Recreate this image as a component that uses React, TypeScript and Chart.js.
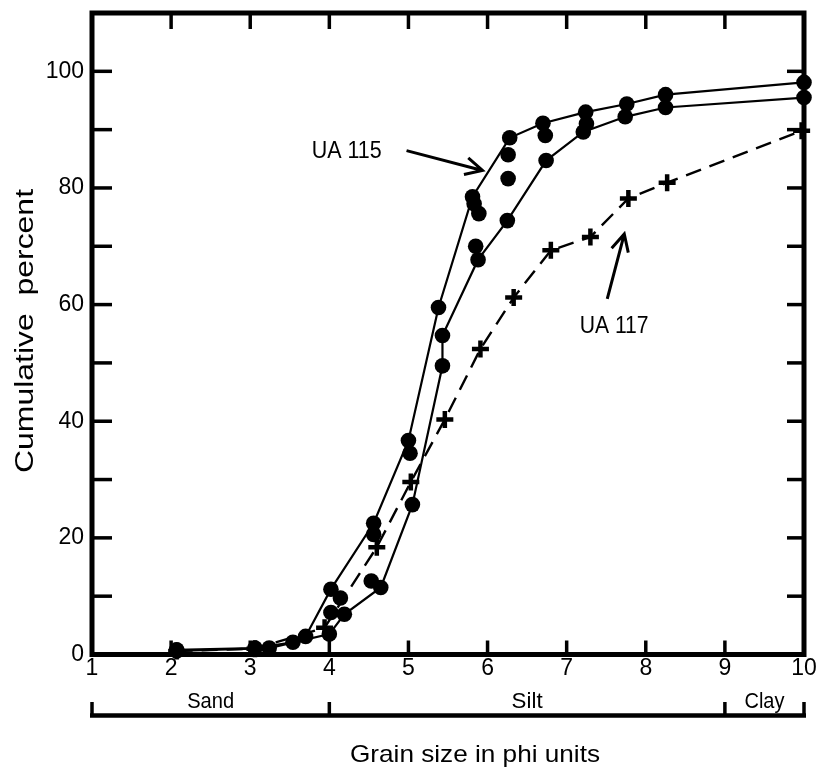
import React, { useEffect, useRef } from 'react';
import { Chart, registerables } from 'chart.js';

Chart.register(...registerables);

// ---------------- data ----------------
// phi size (x) and cumulative percent (y)
const ua115X = [2.07, 3.06, 3.54, 3.70, 4.02, 4.56, 5.00, 5.38, 5.81, 6.28, 6.70, 7.24, 7.76, 8.25, 10.0];
const ua115Y = [0.8, 1.1, 2.1, 3.1, 11.2, 22.5, 36.7, 59.5, 78.5, 88.6, 91.1, 93.0, 94.4, 96.0, 98.1];

const lowerX = [2.07, 3.24, 4.00, 4.19, 4.65, 5.05, 5.43, 5.43, 5.88, 6.25, 6.74, 7.21, 7.74, 8.25, 10.0];
const lowerY = [0.6, 1.1, 3.5, 6.9, 11.5, 25.7, 49.5, 54.7, 67.7, 74.4, 84.7, 89.6, 92.2, 93.8, 95.5];

const extraX = [4.14, 4.02, 4.53, 4.56, 5.02, 5.83, 5.89, 5.85, 6.26, 6.26, 6.73, 7.25];
const extraY = [9.7, 7.2, 12.6, 20.6, 34.5, 77.3, 75.6, 70.0, 85.7, 81.6, 89.0, 91.0];

const ua117X = [2.07, 3.06, 3.94, 4.60, 5.03, 5.46, 5.91, 6.33, 6.80, 7.30, 7.78, 8.27, 9.97];
const ua117Y = [0.6, 1.0, 4.6, 18.4, 29.6, 40.3, 52.4, 61.2, 69.3, 71.6, 78.2, 80.9, 89.8];

const xMin = 1;
const xMax = 10;
const yMin = 0;
const yMax = 110;
const innerXTicks = [2, 3, 4, 5, 6, 7, 8, 9];
const innerYTicks = [10, 20, 30, 40, 50, 60, 70, 80, 90, 100];

const classBounds = [1, 4, 9, 10];
const classNames = ['Sand', 'Silt', 'Clay'];

const yTitle = 'Cumulative  percent';
const xTitle = 'Grain size in phi units';

// annotations in data coordinates
const label115 = { text: 'UA 115', x: 4.22, y: 86.5 };
const arrow115 = { x1: 4.976, y1: 86.4, x2: 5.936, y2: 83.0 };
const label117 = { text: 'UA 117', x: 7.60, y: 56.5 };
const arrow117 = { x1: 7.513, y1: 61.0, x2: 7.728, y2: 72.1 };

const FAMILY = '"Liberation Sans", Arial, Helvetica, sans-serif';
const f = (s: number) => `${s}px ${FAMILY}`;

const pts = (xs: number[], ys: number[]) => xs.map((x, i) => ({ x, y: ys[i] }));

function line(ctx: CanvasRenderingContext2D, x1: number, y1: number, x2: number, y2: number) {
  ctx.beginPath();
  ctx.moveTo(x1, y1);
  ctx.lineTo(x2, y2);
  ctx.stroke();
}

function arrow(ctx: CanvasRenderingContext2D, x1: number, y1: number, x2: number, y2: number) {
  const ang = Math.atan2(y2 - y1, x2 - x1);
  const head = 19;
  const spread = 0.47;
  ctx.beginPath();
  ctx.moveTo(x1, y1);
  ctx.lineTo(x2, y2);
  ctx.moveTo(x2 - head * Math.cos(ang - spread), y2 - head * Math.sin(ang - spread));
  ctx.lineTo(x2, y2);
  ctx.lineTo(x2 - head * Math.cos(ang + spread), y2 - head * Math.sin(ang + spread));
  ctx.stroke();
}

function fitText(
  ctx: CanvasRenderingContext2D,
  text: string,
  cx: number,
  baseY: number,
  targetW: number,
  size: number,
  rotate: boolean,
  baseline: CanvasTextBaseline = 'alphabetic'
) {
  ctx.save();
  ctx.font = f(size);
  const w = ctx.measureText(text).width;
  ctx.translate(cx, baseY);
  if (rotate) ctx.rotate(-Math.PI / 2);
  ctx.scale(targetW / w, 1);
  ctx.textAlign = 'center';
  ctx.textBaseline = baseline;
  ctx.fillStyle = '#000';
  ctx.fillText(text, 0, 0);
  ctx.restore();
}

const decor = {
  id: 'decor',
  beforeDatasetsDraw(chart: any) {
    const { ctx, chartArea: a, scales } = chart;
    const x = scales.x;
    const y = scales.y;
    ctx.save();
    ctx.strokeStyle = '#000';
    ctx.fillStyle = '#000';
    ctx.lineCap = 'butt';

    // frame
    ctx.lineWidth = 5;
    ctx.strokeRect(a.left, a.top, a.right - a.left, a.bottom - a.top);

    // inward ticks
    ctx.lineWidth = 3.5;
    for (const v of innerXTicks) {
      const px = x.getPixelForValue(v);
      line(ctx, px, a.bottom, px, a.bottom - 14);
      line(ctx, px, a.top, px, a.top + 16);
    }
    for (const v of innerYTicks) {
      const py = y.getPixelForValue(v);
      line(ctx, a.left, py, a.left + 20, py);
      line(ctx, a.right, py, a.right - 17, py);
    }

    // size class bracket
    const by = 715.5;
    ctx.lineWidth = 4.5;
    line(ctx, x.getPixelForValue(classBounds[0]) - 2, by, x.getPixelForValue(classBounds[classBounds.length - 1]) + 2, by);
    ctx.lineWidth = 3.5;
    for (const v of classBounds) {
      const px = x.getPixelForValue(v);
      line(ctx, px, by, px, 702);
    }
    const classWidths = [47, 31, 40];
    for (let i = 0; i < classNames.length; i++) {
      const cx = (x.getPixelForValue(classBounds[i]) + x.getPixelForValue(classBounds[i + 1])) / 2;
      fitText(ctx, classNames[i], cx, 708, classWidths[i], 21.5, false);
    }

    // axis titles
    fitText(ctx, xTitle, 475, 762, 250, 24, false);
    fitText(ctx, yTitle, 33, 331, 284, 26, true);

    // annotations
    fitText(ctx, label115.text, x.getPixelForValue(label115.x), y.getPixelForValue(label115.y) + 8, 70, 23.5, false);
    fitText(ctx, label117.text, x.getPixelForValue(label117.x), y.getPixelForValue(label117.y) + 8, 69, 23.5, false);
    ctx.lineWidth = 3;
    arrow(ctx, x.getPixelForValue(arrow115.x1), y.getPixelForValue(arrow115.y1), x.getPixelForValue(arrow115.x2), y.getPixelForValue(arrow115.y2));
    arrow(ctx, x.getPixelForValue(arrow117.x1), y.getPixelForValue(arrow117.y1), x.getPixelForValue(arrow117.x2), y.getPixelForValue(arrow117.y2));

    ctx.restore();
  },
};

const circleStyle = {
  borderColor: '#000',
  borderWidth: 2.2,
  pointStyle: 'circle',
  pointRadius: 7.8,
  pointBackgroundColor: '#000',
  pointBorderColor: '#000',
  pointBorderWidth: 0,
  tension: 0,
  clip: false,
};

export default function App() {
  const ref = useRef<HTMLCanvasElement | null>(null);

  useEffect(() => {
    if (!ref.current) return;
    const chart = new Chart(ref.current, {
      type: 'scatter',
      data: {
        datasets: [
          { label: 'UA 115', data: pts(ua115X, ua115Y), showLine: true, ...circleStyle } as any,
          { label: 'Second curve', data: pts(lowerX, lowerY), showLine: true, ...circleStyle } as any,
          { label: 'Replicates', data: pts(extraX, extraY), showLine: false, ...circleStyle } as any,
          {
            label: 'UA 117',
            data: pts(ua117X, ua117Y),
            showLine: true,
            borderColor: '#000',
            borderWidth: 2.4,
            borderDash: [16, 9],
            pointStyle: 'cross',
            pointRadius: 8.5,
            pointBorderColor: '#000',
            pointBorderWidth: 4.5,
            tension: 0,
            clip: false,
          } as any,
        ],
      },
      options: {
        responsive: false,
        animation: false,
        events: [],
        layout: { padding: { top: 10, right: 12, left: 0, bottom: 0 } },
        plugins: { legend: { display: false }, tooltip: { enabled: false } },
        scales: {
          x: {
            type: 'linear',
            min: xMin,
            max: xMax,
            ticks: { stepSize: 1, color: '#000', font: { family: FAMILY, size: 23 }, padding: 0, maxRotation: 0 },
            grid: { display: false, drawTicks: false },
            border: { display: false },
            afterFit: (s: any) => {
              s.height = 117.5;
              s.paddingLeft = 0;
              s.paddingRight = 0;
            },
          },
          y: {
            type: 'linear',
            min: yMin,
            max: yMax,
            ticks: { stepSize: 20, includeBounds: false, color: '#000', font: { family: FAMILY, size: 23 }, padding: 8 },
            grid: { display: false, drawTicks: false },
            border: { display: false },
            afterFit: (s: any) => {
              s.width = 92;
              s.paddingTop = 0;
              s.paddingBottom = 0;
            },
          },
        },
      } as any,
      plugins: [decor],
    });
    return () => chart.destroy();
  }, []);

  return (
    <div style={{ position: 'absolute', left: 0, top: 0, width: 817, height: 772, background: '#fff' }}>
      <canvas ref={ref} width={817} height={772} style={{ display: 'block' }} />
    </div>
  );
}
